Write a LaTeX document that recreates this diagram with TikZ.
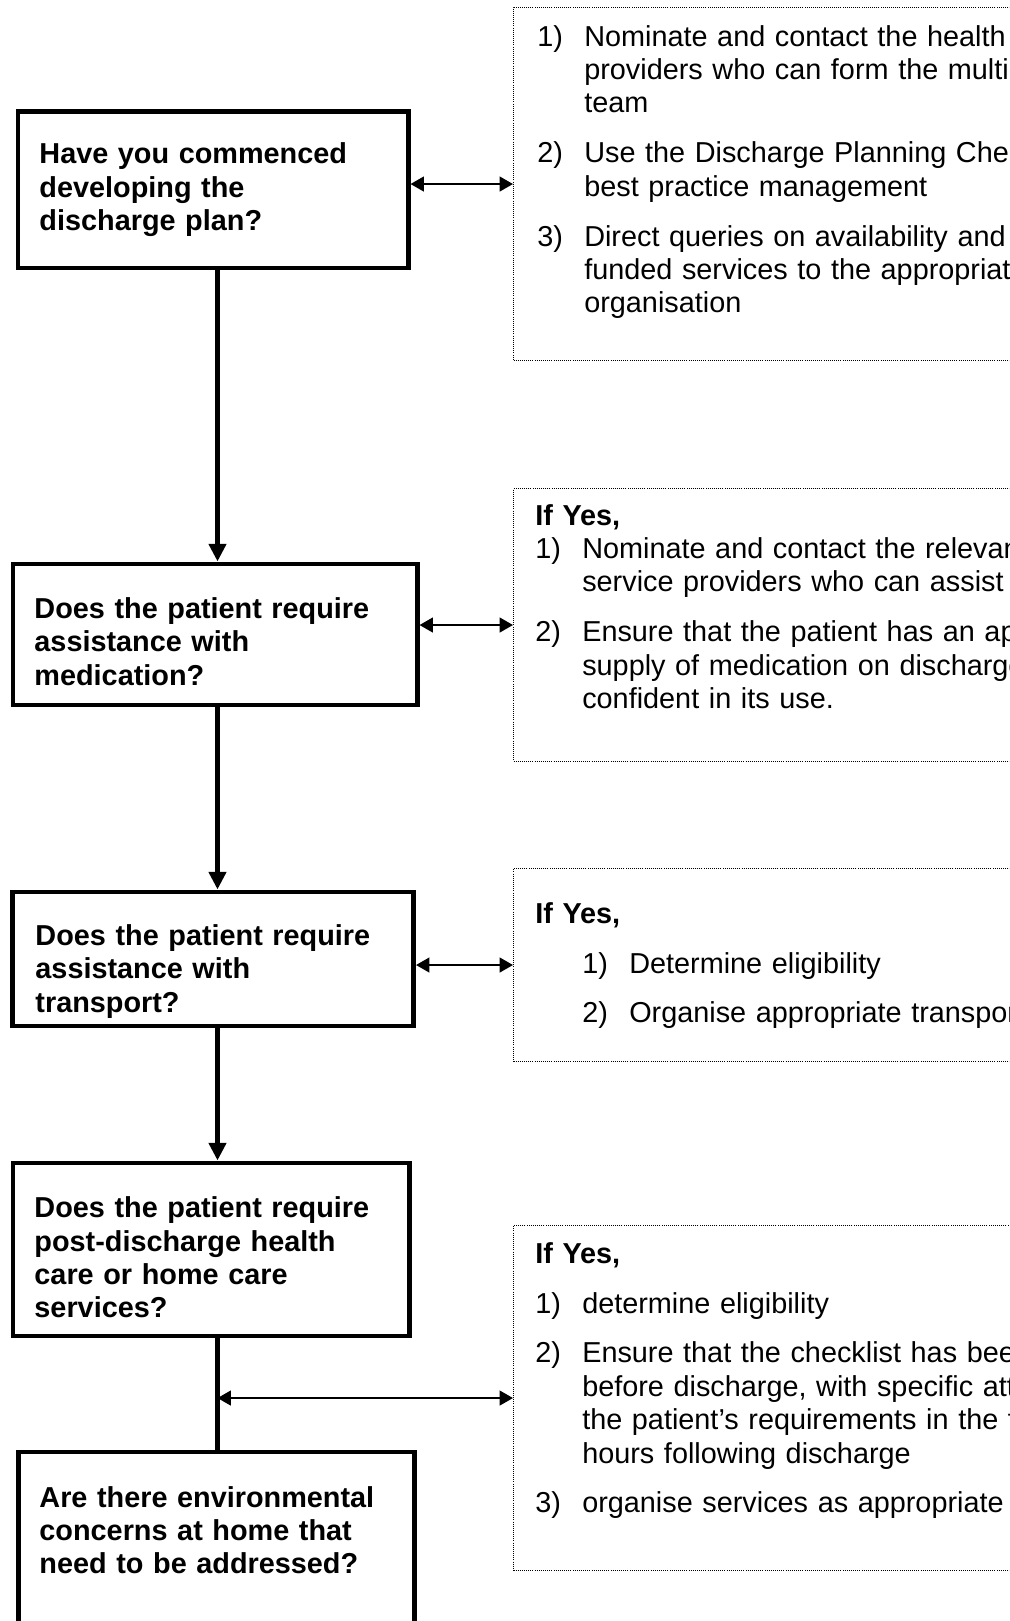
\documentclass[tikz,border=0pt]{standalone}
\usepackage{fontspec}
\setmainfont{Liberation Sans}
\usetikzlibrary{arrows.meta}
\newcommand{\fsz}{\fontsize{20.5}{23.75}\selectfont}
\newcommand{\itm}[1]{\makebox[1.175cm][l]{#1}}
\newcommand{\hng}{\hspace*{1.175cm}}
\newcommand{\lift}[1]{\rule{0pt}{#1}}

\begin{document}
\begin{tikzpicture}[x=0.025cm, y=-0.025cm, font=\fsz,
	qbox/.style={draw, line width=3.5pt, anchor=north west, inner sep=0pt, align=left, font=\fsz\bfseries},
	abox/.style={draw, line width=0.7pt, dash pattern=on 0.7pt off 0.8pt, anchor=north west, inner sep=0pt, minimum width=15cm},
	atext/.style={anchor=north west, inner sep=0pt, align=left, text width=26cm},
	flow/.style={line width=3.5pt, -{Triangle[length=12.5pt, width=12pt]}},
	link/.style={line width=1.4pt, {Triangle[length=9.5pt, width=10.5pt]}-{Triangle[length=9.5pt, width=10.5pt]}}]
	\useasboundingbox (0,0) rectangle (1009,1621);
	\clip (0,0) rectangle (1009,1621);
	% questions
	\node[qbox, minimum width=9.75cm, minimum height=3.9cm, text width=8.675cm] (q1) at (15.5,109.5) {Have you commenced\\developing the\\discharge plan?};
	\node[qbox, minimum width=10.1cm, minimum height=3.525cm, text width=9.025cm] (q2) at (10.5,561.5) {\lift{0.87cm}Does the patient require\\assistance with\\medication?};
	\node[qbox, minimum width=10.025cm, minimum height=3.35cm, text width=8.875cm] (q3) at (10,889.5) {\lift{1.14cm}Does the patient require\\assistance with\\transport?};
	\node[qbox, minimum width=9.9cm, minimum height=4.325cm, text width=8.825cm] (q4) at (10.5,1160.5) {\lift{0.92cm}Does the patient require\\post-discharge health\\care or home care\\services?};
	\node[qbox, minimum width=9.9cm, minimum height=7.5cm, text width=8.85cm] (q5) at (16,1449.5) {Are there environmental\\concerns at home that\\need to be addressed?\rule[-3.6cm]{0pt}{3.6cm}};
	% answers
	\node[abox, minimum height=8.825cm] (a1) at (513,7) {};
	\node[abox, minimum height=6.825cm] (a2) at (513,488) {};
	\node[abox, minimum height=4.825cm] (a3) at (513,868) {};
	\node[abox, minimum height=8.625cm] (a4) at (513,1225) {};
	\node[atext] (t1) at (537,25) {\itm{1)}Nominate and contact the health\\ \hng providers who can form the multidisciplinary\\ \hng team\\[11.7pt] \itm{2)}Use the Discharge Planning Checklist\\ \hng best practice management\\[11.7pt] \itm{3)}Direct queries on availability and\\ \hng funded services to the appropriate\\ \hng organisation};
	\node[atext] (t2) at (535,504) {\textbf{If Yes,}\\ \itm{1)}Nominate and contact the relevant\\ \hng service providers who can assist\\[11.7pt] \itm{2)}Ensure that the patient has an appropriate\\ \hng supply of medication on discharge\\ \hng confident in its use.};
	\node[atext] (t3) at (535,902) {\textbf{If Yes,}\\[11.7pt] \hng\itm{1)}Determine eligibility\\[11.7pt] \hng\itm{2)}Organise appropriate transport};
	\node[atext] (t4) at (535,1242) {\textbf{If Yes,}\\[11.7pt] \itm{1)}determine eligibility\\[11.7pt] \itm{2)}Ensure that the checklist has been\\ \hng before discharge, with specific attention\\ \hng the patient’s requirements in the first\\ \hng hours following discharge\\[11.7pt] \itm{3)}organise services as appropriate};
	% connectors
	\coordinate (spine) at (217.5,0);
	\draw[flow] (q1.south -| spine) -- (q2.north -| spine);
	\draw[flow] (q2.south -| spine) -- (q3.north -| spine);
	\draw[flow] (q3.south -| spine) -- (q4.north -| spine);
	\draw[line width=3.5pt] (q4.south -| spine) -- (q5.north -| spine);
	\draw[link] (q1.east |- a1.west) -- (a1.west);
	\draw[link] (q2.east |- a2.west) -- (a2.west);
	\draw[link] (q3.east |- a3.west) -- (a3.west);
	\draw[link] (spine |- a4.west) -- (a4.west);
\end{tikzpicture}
\end{document}
